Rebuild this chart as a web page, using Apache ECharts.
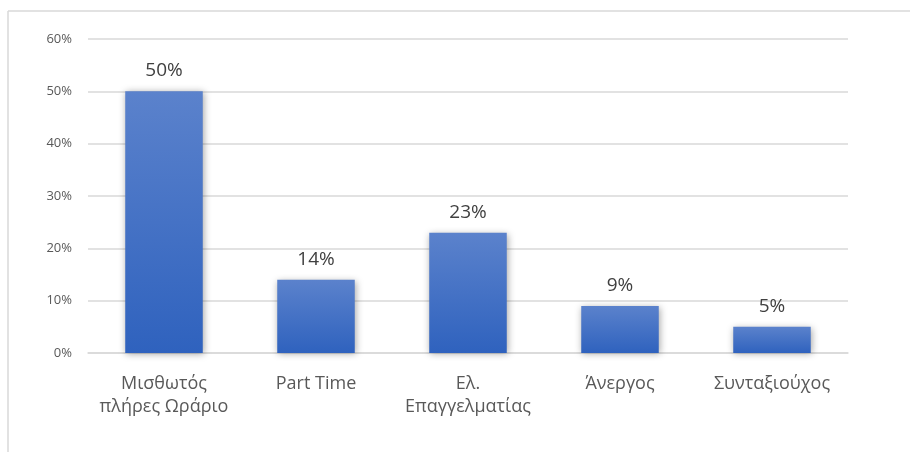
<!DOCTYPE html>
<html>
<head>
<meta charset="utf-8">
<script src="https://cdn.jsdelivr.net/npm/echarts@6/dist/echarts.min.js"></script>
<style>
  html, body { margin: 0; padding: 0; background: #ffffff; }
  #chart { width: 910px; height: 452px; }
</style>
</head>
<body>
<div id="chart"></div>
<script>
// Employment status shares (percent)
const categories = ['Μισθωτός\nπλήρες Ωράριο', 'Part Time', 'Ελ.\nΕπαγγελματίας', 'Άνεργος', 'Συνταξιούχος'];
const values = [50, 14, 23, 9, 5];
const yTicks = { min: 0, max: 60, interval: 10 };

const chart = echarts.init(document.getElementById('chart'));
const font = '"Open Sans", "Noto Sans", sans-serif';

chart.setOption({
  animation: false,
  backgroundColor: '#ffffff',
  graphic: [
    { type: 'line', shape: { x1: 8, y1: 11, x2: 910, y2: 11 }, style: { stroke: '#d9d9d9', lineWidth: 1.5 } },
    { type: 'line', shape: { x1: 8, y1: 11, x2: 8, y2: 452 }, style: { stroke: '#d9d9d9', lineWidth: 1.5 } }
  ],
  grid: { left: 88, right: 62, top: 39, bottom: 99, containLabel: false },
  xAxis: {
    type: 'category',
    data: categories,
    axisTick: { show: false },
    axisLine: { lineStyle: { color: '#d9d9d9', width: 1.5 } },
    axisLabel: { interval: 0, hideOverlap: false, color: '#595959', fontSize: 18, fontFamily: font, margin: 19, lineHeight: 23 }
  },
  yAxis: {
    type: 'value',
    min: yTicks.min,
    max: yTicks.max,
    interval: yTicks.interval,
    axisLine: { show: false },
    axisTick: { show: false },
    axisLabel: { color: '#595959', fontSize: 13, fontFamily: font, margin: 16, formatter: v => v + '%' },
    splitLine: { lineStyle: { color: '#d9d9d9', width: 1.5 } }
  },
  series: [{
    type: 'bar',
    data: values,
    barCategoryGap: '49%',
    itemStyle: {
      color: new echarts.graphic.LinearGradient(0, 0, 0, 1, [
        { offset: 0, color: '#5b82cc' },
        { offset: 1, color: '#2f62be' }
      ]),
      shadowColor: 'rgba(0,0,0,0.35)',
      shadowBlur: 7,
      shadowOffsetX: 1,
      shadowOffsetY: 1
    },
    label: {
      show: true,
      position: 'top',
      distance: 11,
      color: '#404040',
      fontSize: 19,
      fontFamily: font,
      formatter: p => p.value + '%'
    }
  }]
});
</script>
</body>
</html>
